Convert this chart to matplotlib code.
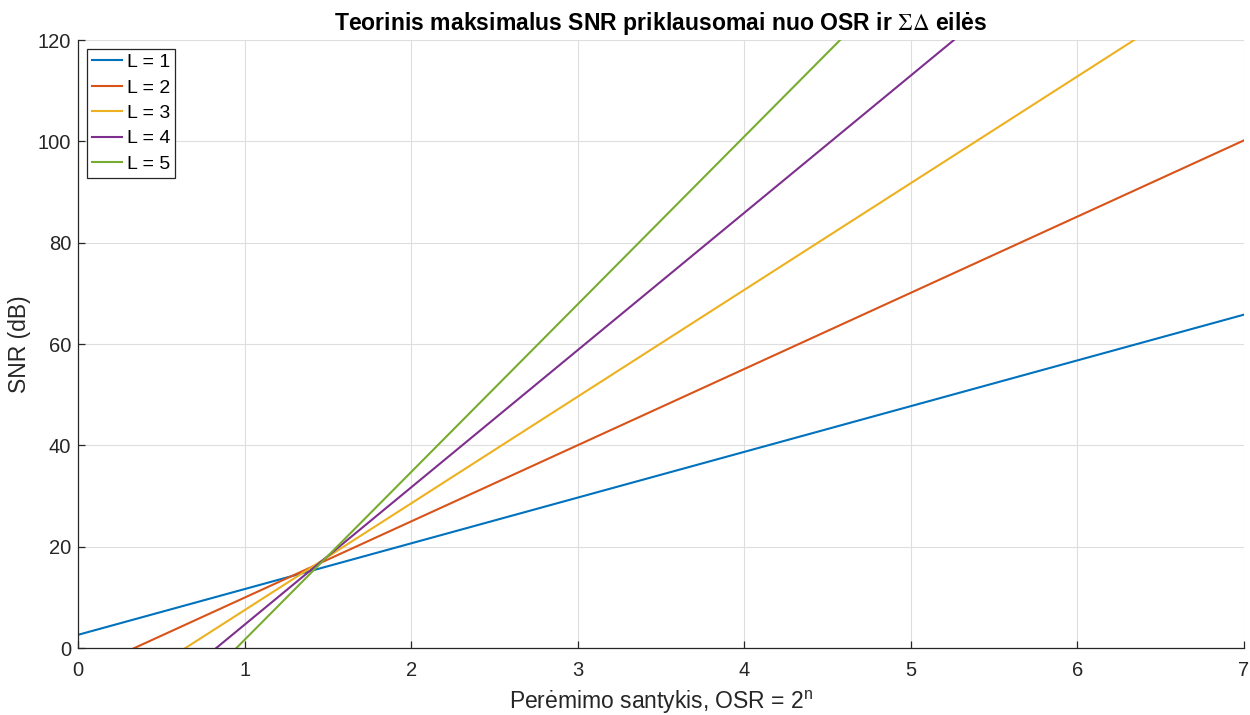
import matplotlib
matplotlib.use("Agg")
import matplotlib.pyplot as plt

plt.rcParams['font.family'] = ['Liberation Sans', 'DejaVu Sans']

# Sigma-delta modulator order and SNR (dB) at both ends of the n range
orders = [1, 2, 3, 4, 5]
labels = [f"L = {L}" for L in orders]
n_range = [0, 7]
snr_at_n0 = [2.6, -5.1, -13.6, -22.5, -31.5]
snr_at_n7 = [65.8, 100.2, 133.9, 167.2, 200.3]
colors = ['#0072BD', '#D95319', '#EDB120', '#7E2F8E', '#77AC30']

fig = plt.figure(figsize=(12.5, 7.15), dpi=100)
ax = fig.add_axes([0.0624, 0.0937, 0.9328, 0.8503])

for lab, y0, y7, c in zip(labels, snr_at_n0, snr_at_n7, colors):
    ax.plot(n_range, [y0, y7], color=c, lw=1.5, label=lab)

ax.set_xlim(0, 7)
ax.set_ylim(0, 120)
ax.set_xticks(range(0, 8))
ax.set_yticks(range(0, 121, 20))
ax.grid(True, color='#dedede', lw=0.8)
ax.set_axisbelow(True)

for s in ['top', 'right']:
    ax.spines[s].set_visible(False)
for s in ['left', 'bottom']:
    ax.spines[s].set_color('#262626')
    ax.spines[s].set_linewidth(0.9)
ax.tick_params(direction='in', length=5, width=0.9, colors='#262626',
               labelsize=14.5)
ax.tick_params(axis='x', pad=9)
ax.tick_params(axis='y', pad=5)

ax.set_title(r"Teorinis maksimalus SNR priklausomai nuo OSR ir $\Sigma\Delta$ eilės",
             fontsize=16.6, fontweight='bold', math_fontfamily='stix', pad=7)
ax.set_xlabel(r"Perėmimo santykis, OSR = 2$^{\mathregular{n}}$", fontsize=16.5,
              color='#262626', labelpad=7)
ax.set_ylabel("SNR (dB)", fontsize=16.5, color='#262626', labelpad=5)

leg = ax.legend(loc='upper left', fontsize=14, fancybox=False, framealpha=1,
                edgecolor='#262626', borderpad=0.25, labelspacing=0.4,
                handlelength=1.55, handletextpad=0.28, borderaxespad=0.45)
leg.get_frame().set_linewidth(0.9)

fig.savefig("out.png", dpi=100)
